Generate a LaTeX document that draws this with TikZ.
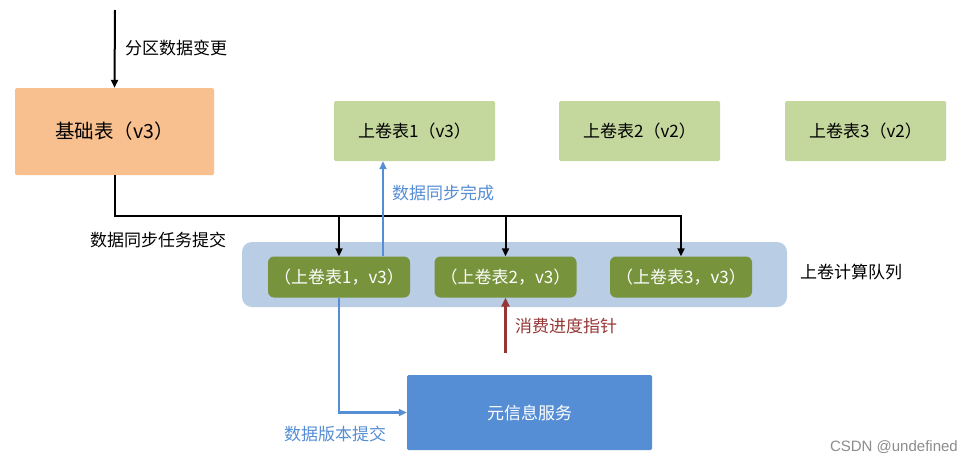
\documentclass[tikz,border=0pt]{standalone}
\usepackage{fontspec}
\setmainfont{Noto Sans CJK SC}
\newfontfamily\wmfont{Liberation Sans}
\usetikzlibrary{arrows.meta}
\definecolor{baseor}{HTML}{F9C08F}
\definecolor{rollg}{HTML}{C4D79D}
\definecolor{queuebg}{HTML}{B9CDE5}
\definecolor{itemg}{HTML}{77933C}
\definecolor{metab}{HTML}{558ED5}
\definecolor{bluel}{HTML}{558ED5}
\definecolor{redl}{HTML}{953735}
\tikzset{
  box/.style={draw=none, inner sep=0pt, align=center, font=\fontsize{17}{19}\selectfont},
  rollbox/.style={box, fill=rollg, minimum width=161pt, minimum height=60pt, rounded corners=1.5pt},
  itembox/.style={box, fill=itemg, text=white, minimum width=142pt, minimum height=41pt, rounded corners=6pt},
  lbl/.style={anchor=west, inner sep=0pt, font=\fontsize{17}{19}\selectfont},
  blk/.style={line width=2pt, draw=black, -{Triangle[length=8pt,width=7pt]}},
  blu/.style={line width=2.2pt, draw=bluel, -{Triangle[length=8pt,width=7pt]}},
  red/.style={line width=2.6pt, draw=redl, -{Triangle[length=9pt,width=8pt]}},
}
\begin{document}
\begin{tikzpicture}[x=1pt,y=-1pt]
\useasboundingbox (0,0) rectangle (960,464);
\fill[white] (0,0) rectangle (960,464);
% queue background
\fill[queuebg, rounded corners=10pt] (242,242) rectangle (787,307);
% nodes
\node[box, fill=baseor, minimum width=199pt, minimum height=87pt, rounded corners=1.5pt, font=\fontsize{19.5}{21}\selectfont] (base) at (114.5,131.5) {基础表（v3）};
\node[rollbox] (r1) at (414.5,131) {上卷表1（v3）};
\node[rollbox] (r2) at (639.5,131) {上卷表2（v2）};
\node[rollbox] (r3) at (865.5,131) {上卷表3（v2）};
\node[itembox] (q1) at (339,277) {（上卷表1，v3）};
\node[itembox] (q2) at (505.5,277) {（上卷表2，v3）};
\node[itembox] (q3) at (681,277) {（上卷表3，v3）};
\node[box, fill=metab, text=white, minimum width=245pt, minimum height=75pt, rounded corners=1.5pt] (meta) at (529.5,412.5) {元信息服务};
% coordinates
\coordinate (src) at (115,10);
\coordinate (bus) at (0,216);
\coordinate (upx) at (383,0);
\coordinate (ptr) at (505.5,353);
% connectors
\draw[blk] (src) -- (base.north);
\draw[blk] (base.south) -- (base.south |- bus) -- (q3.north |- bus) -- (q3.north);
\draw[blk] (q1.north |- bus) -- (q1.north);
\draw[blk] (q2.north |- bus) -- (q2.north);
\draw[blu] (upx |- q1.north) -- (upx |- r1.south);
\draw[blu] (q1.south) |- (meta.west);
\draw[red] (ptr) -- (q2.south);
% labels
\node[lbl] (l1) at (125,48) {分区数据变更};
\node[lbl] (l2) at (90,240) {数据同步任务提交};
\node[lbl, text=bluel] (l3) at (392,193) {数据同步完成};
\node[lbl, text=redl] (l4) at (515,326) {消费进度指针};
\node[lbl] (l5) at (800,272) {上卷计算队列};
\node[lbl, text=bluel] (l6) at (284,434) {数据版本提交};
\node[anchor=east, inner sep=0pt, text=black!45, font=\wmfont\fontsize{15}{17}\selectfont] (wm) at (958,447) {CSDN @undefined};
\end{tikzpicture}
\end{document}
